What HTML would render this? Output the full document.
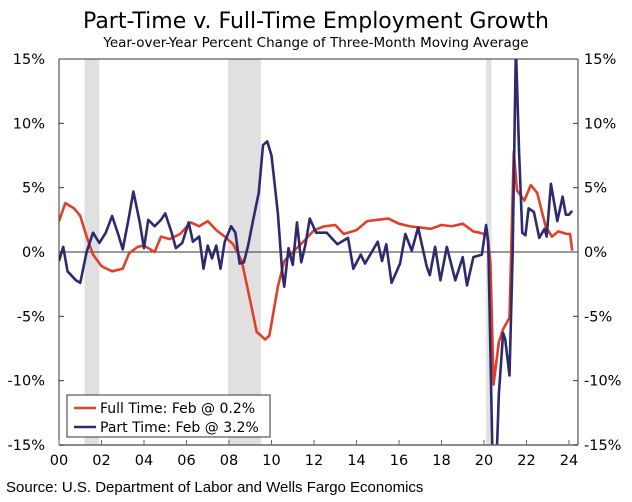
<!DOCTYPE html>
<html><head><meta charset="utf-8"><style>
body{margin:0;background:#fff;font-family:"Liberation Sans",sans-serif}
svg{display:block}
text{font-family:"DejaVu Sans","Liberation Sans",sans-serif}
</style></head><body>
<svg id="chart" width="632" height="502">
<text x="316" y="28" text-anchor="middle" font-size="22" fill="#000">Part-Time v. Full-Time Employment Growth</text>
<text x="316" y="47" text-anchor="middle" font-size="13.5" fill="#000">Year-over-Year Percent Change of Three-Month Moving Average</text>
<text x="6" y="492" font-size="15" fill="#000" style="font-family:'Liberation Sans',sans-serif">Source: U.S. Department of Labor and Wells Fargo Economics</text>
<g id="plot"></g>
</svg>
<script>
const recessions=[[2001.2,2001.9],[2007.95,2009.5],[2020.1,2020.35]];
const yTicks=[15,10,5,0,-5,-10,-15];
const xTicks=[2000,2002,2004,2006,2008,2010,2012,2014,2016,2018,2020,2022,2024];
const xLabels=["00","02","04","06","08","10","12","14","16","18","20","22","24"];
const ftDates=[2000,2000.3,2000.7,2001,2001.3,2001.6,2002,2002.5,2003,2003.3,2003.7,2004,2004.5,2004.8,2005.2,2005.7,2006.2,2006.6,2007,2007.4,2007.8,2008.2,2008.6,2009,2009.3,2009.7,2009.9,2010.3,2010.6,2011,2011.5,2012,2012.5,2013,2013.4,2014,2014.5,2015,2015.5,2016,2016.5,2017,2017.5,2018,2018.5,2019,2019.5,2019.8,2020.15,2020.3,2020.45,2020.7,2020.9,2021.2,2021.4,2021.55,2021.9,2022.2,2022.5,2022.9,2023.2,2023.5,2023.9,2024.05,2024.15];
const ftValues=[2.4,3.8,3.4,2.8,1.2,-0.2,-1.1,-1.5,-1.3,-0.1,0.4,0.5,0,1.2,1.0,1.4,2.3,2.0,2.4,1.7,1.2,0.6,-0.7,-3.8,-6.2,-6.8,-6.5,-2.7,-0.7,0,0.8,1.7,2.0,2.1,1.4,1.7,2.4,2.5,2.6,2.2,2.0,1.9,1.8,2.1,2.0,2.2,1.6,1.5,1.3,-0.7,-10.3,-7.0,-6.0,-5.1,7.8,4.8,4.0,5.2,4.6,2.0,1.2,1.6,1.4,1.4,0.1];
const ptDates=[2000,2000.2,2000.4,2000.8,2001,2001.3,2001.6,2001.9,2002.2,2002.5,2002.8,2003,2003.3,2003.5,2003.8,2004,2004.2,2004.5,2004.8,2005,2005.3,2005.5,2005.8,2006.1,2006.3,2006.6,2006.8,2007,2007.2,2007.4,2007.6,2007.8,2008.1,2008.3,2008.5,2008.7,2008.9,2009.1,2009.4,2009.6,2009.8,2010,2010.3,2010.5,2010.6,2010.8,2011,2011.2,2011.4,2011.6,2011.8,2012.1,2012.6,2013.1,2013.6,2013.85,2014.2,2014.4,2015,2015.2,2015.4,2015.65,2016.05,2016.3,2016.6,2016.9,2017.3,2017.45,2017.7,2017.95,2018.25,2018.65,2019,2019.2,2019.5,2019.9,2020.1,2020.2,2020.4,2020.6,2020.7,2020.9,2021.0,2021.2,2021.35,2021.5,2021.65,2021.8,2021.95,2022.1,2022.35,2022.6,2022.85,2022.95,2023.15,2023.45,2023.7,2023.85,2024.0,2024.15];
const ptValues=[-0.7,0.4,-1.5,-2.2,-2.4,0,1.5,0.7,1.5,2.8,1.3,0.2,2.8,4.7,2.3,0.3,2.5,2.0,2.5,3.0,1.5,0.3,0.7,2.3,0.8,1.2,-1.3,0.5,-0.5,0.5,-1.3,0.8,2.0,1.5,-0.9,-0.8,0.5,2.2,4.6,8.3,8.6,7.5,3.0,-1.5,-2.7,0.3,-1.0,2.3,-0.8,0.6,2.6,1.5,1.5,0.6,1.1,-1.3,-0.2,-0.9,0.8,-0.7,0.6,-2.4,-0.9,1.4,0.1,1.9,-1.1,-1.8,0.4,-2.2,0.4,-2.2,-0.4,-2.6,-0.4,-0.2,2.1,0.8,-16,-15.7,-11,-6.3,-6.8,-9.6,0,16,7.8,1.5,1.3,3.4,3.1,1.1,1.8,1.2,5.3,2.4,4.3,2.9,2.9,3.2];

const L=59,R=578,T=59,B=445;
const xs=d=>L+(d-2000)*21.25;
const ys=v=>T+(15-v)*(B-T)/30;
const NS="http://www.w3.org/2000/svg";
const g=document.getElementById('plot');
function mk(tag,attrs,parent){const e=document.createElementNS(NS,tag);for(const k in attrs)e.setAttribute(k,attrs[k]);(parent||g).appendChild(e);return e;}
const defs=mk('defs',{});
const cp=mk('clipPath',{id:'clip'},defs);mk('rect',{x:L,y:T,width:R-L,height:B-T},cp);
recessions.forEach(r=>{const e=mk('rect',{x:xs(r[0]),y:T,width:xs(r[1])-xs(r[0]),height:B-T,fill:'#e0e0e0'});

});
const z=mk('line',{x1:L,x2:R,y1:ys(0),y2:ys(0),stroke:'#333','stroke-width':1});


function line(d,v,c,name){const p=mk('polyline',{points:d.map((x,i)=>xs(x)+','+ys(v[i])).join(' '),fill:'none',stroke:c,'stroke-width':2.6,'stroke-linejoin':'round','clip-path':'url(#clip)'});

}
line(ftDates,ftValues,'#e0402a','full-time-line');
line(ptDates,ptValues,'#2e2a6e','part-time-line');
mk('line',{x1:L,x2:R,y1:T,y2:T,stroke:'#333'});
mk('line',{x1:L,x2:L,y1:T,y2:B,stroke:'#333'});
mk('line',{x1:R,x2:R,y1:T,y2:B,stroke:'#333'});
mk('line',{x1:L,x2:R,y1:B,y2:B,stroke:'#666','stroke-width':1.5});
yTicks.forEach(t=>{const y=ys(t);
mk('line',{x1:L,x2:L+5,y1:y,y2:y,stroke:'#333'});mk('line',{x1:R-5,x2:R,y1:y,y2:y,stroke:'#333'});
const a=mk('text',{x:L-14,y:y+5,'text-anchor':'end','font-size':14.5});a.textContent=t+'%';


const b=mk('text',{x:R+6,y:y+5,'font-size':14.5});b.textContent=t+'%';

});
xTicks.forEach((t,i)=>{const x=xs(t);mk('line',{x1:x,x2:x,y1:B-5,y2:B,stroke:'#666'});
const a=mk('text',{x:x,y:B+20,'text-anchor':'middle','font-size':14.5});a.textContent=xLabels[i];

});
const lg=mk('g',{});


mk('rect',{x:67,y:395,width:203,height:42,fill:'#fff',stroke:'#333'},lg);
[['Full Time: Feb @ 0.2%','#e0402a',408],['Part Time: Feb @ 3.2%','#2e2a6e',427]].forEach(([s,c,y])=>{
mk('line',{x1:74,x2:96,y1:y,y2:y,stroke:c,'stroke-width':2.6},lg);
const t=mk('text',{x:100,y:y+5,'font-size':14},lg);t.textContent=s;

});
</script>
</body></html>
